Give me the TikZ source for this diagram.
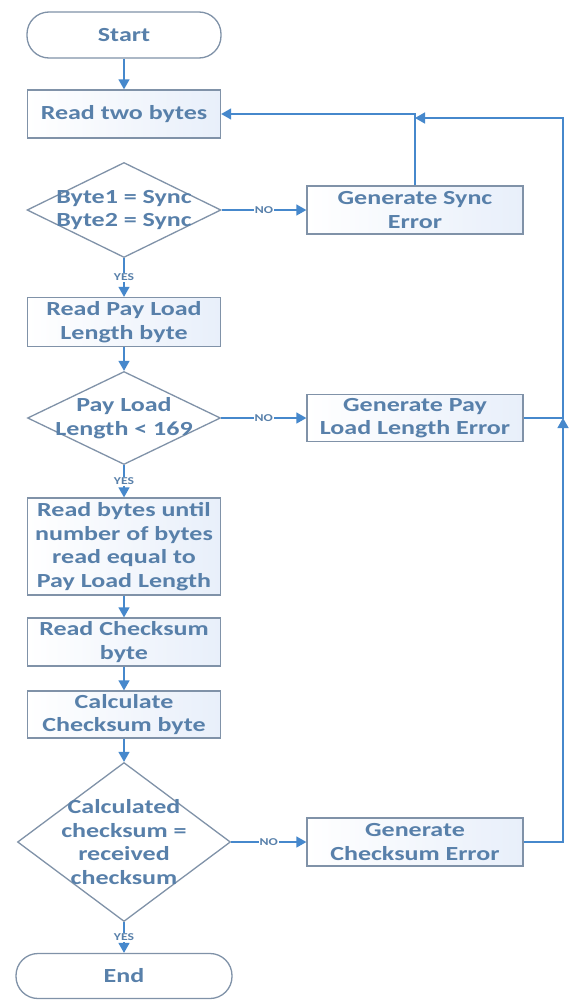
\documentclass[tikz,border=0pt]{standalone}
\usepackage{fontspec}
\setmainfont{Carlito}[FakeStretch=1.3]
\usetikzlibrary{shapes.geometric,arrows.meta}
\definecolor{txtc}{RGB}{88,128,170}
\definecolor{bord}{RGB}{128,146,168}
\definecolor{arrc}{RGB}{70,136,204}
\definecolor{boxfill}{RGB}{232,239,250}
\begin{document}
\begin{tikzpicture}[x=1pt,y=-1pt,
  txt/.style={font=\bfseries\fontsize{20}{23.5}\selectfont, text=txtc, align=center},
  box/.style={txt, draw=bord, line width=1.3pt, left color=white, right color=boxfill,
    minimum width=193pt, minimum height=48pt, inner sep=0pt},
  ebox/.style={box, minimum width=216pt},
  term/.style={txt, draw=bord, line width=1.3pt, fill=white, rounded corners=22pt,
    minimum height=46pt, inner sep=0pt},
  decision/.style={diamond, draw=bord, line width=1.3pt, fill=white, inner sep=0pt},
  arr/.style={draw=arrc, line width=1.4pt, -{Triangle[length=10pt,width=11pt]}},
  lab/.style={fill=white, inner sep=1pt, font=\bfseries\fontsize{10.5}{11}\selectfont, text=txtc}]
\useasboundingbox[fill=white] (0,0) rectangle (569,1001);

\node[term, minimum width=194pt] (start) at (124,35) {Start};
\node[box] (r1) at (124,114) {Read two bytes};
\node[decision, minimum width=194pt, minimum height=95pt] (d1) at (124,210) {};
\node[txt] (d1t) at (d1) {Byte1 = Sync\\Byte2 = Sync};
\node[ebox] (e1) at (415,210) {Generate Sync\\Error};
\node[box, minimum height=49pt] (r2) at (124,322) {Read Pay Load\\Length byte};
\node[decision, minimum width=193pt, minimum height=93pt] (d2) at (124,418) {};
\node[txt] (d2t) at (d2) {Pay Load\\Length < 169};
\node[ebox, minimum height=47pt] (e2) at (415,418) {Generate Pay\\Load Length Error};
\node[box, minimum height=97pt] (r3) at (124,546.5) {Read bytes until\\number of bytes\\read equal to\\Pay Load Length};
\node[box] (r4) at (124,642) {Read Checksum\\byte};
\node[box, minimum height=47pt] (r5) at (124,714.5) {Calculate\\Checksum byte};
\node[decision, minimum width=213pt, minimum height=159pt] (d3) at (124,842) {};
\node[txt] (d3t) at (d3) {Calculated\\checksum =\\received\\checksum};
\node[ebox] (e3) at (415,842) {Generate\\Checksum Error};
\node[term, minimum width=216pt, minimum height=45pt] (end) at (124,976) {End};

\coordinate (j1) at (563,418);
\coordinate (c1) at (563,118);
\coordinate (j2) at (415,118);

\draw[arr] (start) -- (r1);
\draw[arr] (d1) -- node[lab]{YES} (r2);
\draw[arr] (r2) -- (d2);
\draw[arr] (d2) -- node[lab]{YES} (r3);
\draw[arr] (r3) -- (r4);
\draw[arr] (r4) -- (r5);
\draw[arr] (r5) -- (d3);
\draw[arr] (d3) -- node[lab]{YES} (end);
\draw[arr] (d1) -- node[lab]{NO} (e1);
\draw[arr] (d2) -- node[lab]{NO} (e2);
\draw[arr] (d3) -- node[lab]{NO} (e3);
\draw[arr] (e1.north) |- (r1.east);
\draw[arr] (e3.east) -| (j1);
\draw[arr] (e2.east) -- (j1) -- (c1) -- (j2);
\end{tikzpicture}
\end{document}
